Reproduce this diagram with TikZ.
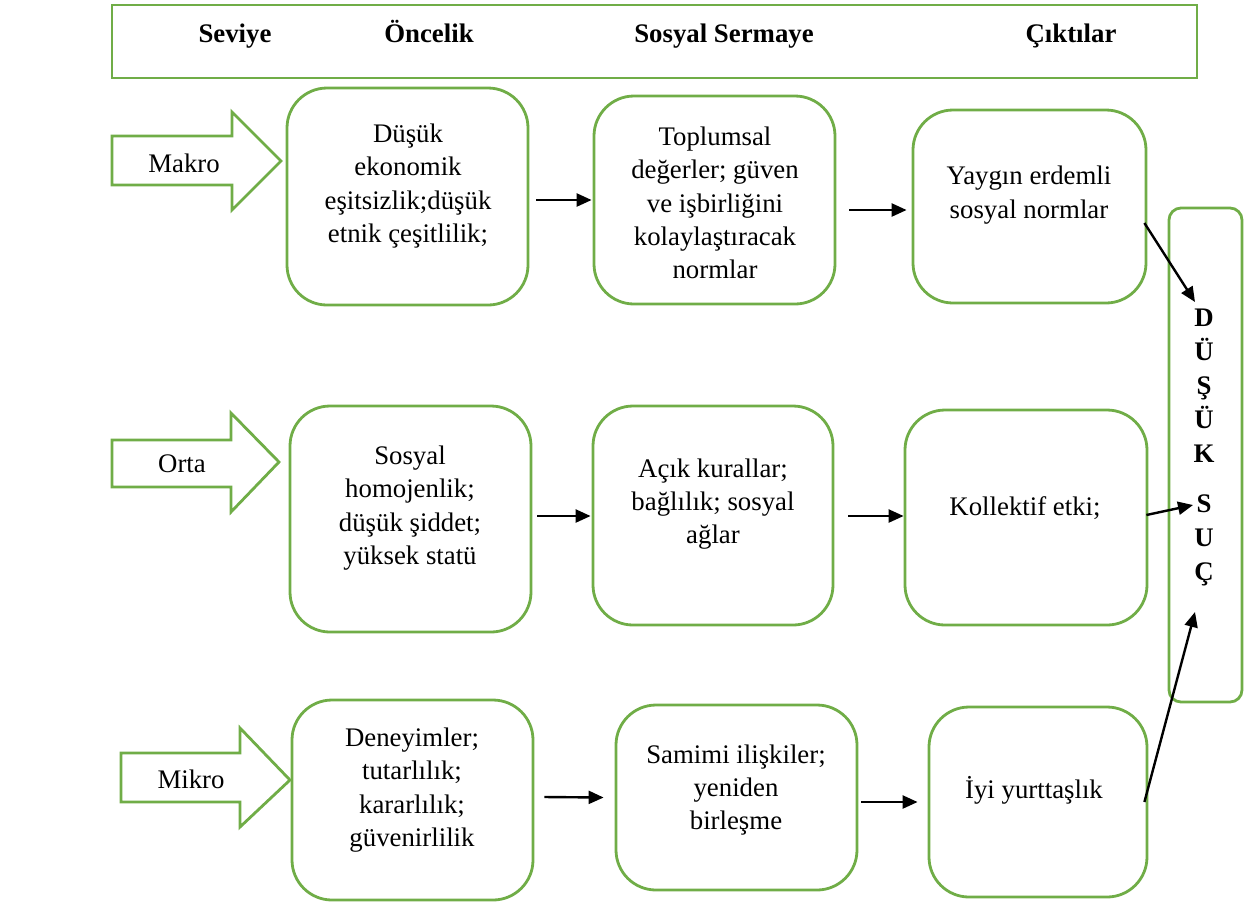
\documentclass[tikz,border=0pt]{standalone}
\usepackage{fontspec}
\setmainfont{Liberation Serif}
\usetikzlibrary{arrows.meta,calc,fit}
\definecolor{grn}{RGB}{112,173,71}
\tikzset{
  bx/.style={draw=grn, line width=1.4pt, rounded corners=20pt, inner sep=0pt},
  hdr/.style={draw=grn, line width=1.4pt, inner sep=0pt},
  tall/.style={draw=grn, line width=1.4pt, rounded corners=6pt, inner sep=0pt},
  blk/.style={draw=grn, line width=1.4pt, fill=white},
  txt/.style={align=center, font=\fontsize{13.4pt}{16.6pt}\selectfont, inner sep=0pt},
  htxt/.style={font=\fontsize{13.4pt}{16.6pt}\selectfont\bfseries, inner sep=0pt, anchor=base},
  arr/.style={-{Triangle[length=7.5pt,width=6.5pt]}, line width=1.2pt, black},
}
\begin{document}
\begin{tikzpicture}[x=0.5pt,y=-0.5pt]
\useasboundingbox (0,0) rectangle (1254,902);
% header
\node[hdr, fit={(112,5) (1197,78)}] (head) {};
\node[htxt] (h1) at (235,42) {Seviye};
\node[htxt] (h2) at (429,42) {Öncelik};
\node[htxt] (h3) at (724,42) {Sosyal Sermaye};
\node[htxt] (h4) at (1071,42) {Çıktılar};
% block arrows
\draw[blk] (112,136) -- (232,136) -- (232,112) -- (281,161) -- (232,210) -- (232,185) -- (112,185) -- cycle;
\node[txt] (lmakro) at (184,163) {Makro};
\draw[blk] (112,440) -- (231,440) -- (231,413) -- (279,462) -- (231,512) -- (231,487) -- (112,487) -- cycle;
\node[txt] (lorta) at (182,464) {Orta};
\draw[blk] (121,753) -- (240,753) -- (240,728) -- (290,780) -- (240,827) -- (240,802) -- (121,802) -- cycle;
\node[txt] (lmikro) at (191,779) {Mikro};
% row 1
\node[bx, fit={(287,88) (528,305)}] (b11) {};
\node[txt] (t11) at (408,186) {Düşük\\ekonomik\\eşitsizlik;düşük\\etnik çeşitlilik;};
\node[bx, fit={(594,96) (835,304)}] (b12) {};
\node[txt] (t12) at (715,203) {Toplumsal\\değerler; güven\\ve işbirliğini\\kolaylaştıracak\\normlar};
\node[bx, fit={(913,110) (1146,303)}] (b13) {};
\node[txt] (t13) at (1029,195) {Yaygın erdemli\\sosyal normlar};
% row 2
\node[bx, fit={(290,406) (531,632)}] (b21) {};
\node[txt] (t21) at (410,508) {Sosyal\\homojenlik;\\düşük şiddet;\\yüksek statü};
\node[bx, fit={(593,406) (833,625)}] (b22) {};
\node[txt] (t22) at (713,504) {Açık kurallar;\\bağlılık; sosyal\\ağlar};
\node[bx, fit={(905,410) (1147,625)}] (b23) {};
\node[txt] (t23) at (1025,508) {Kollektif etki;};
% row 3
\node[bx, fit={(292,700) (533,900)}] (b31) {};
\node[txt] (t31) at (412,790) {Deneyimler;\\tutarlılık;\\kararlılık;\\güvenirlilik};
\node[bx, fit={(616,705) (857,890)}] (b32) {};
\node[txt] (t32) at (736,790) {Samimi ilişkiler;\\yeniden\\birleşme};
\node[bx, fit={(929,707) (1147,897)}] (b33) {};
\node[txt] (t33) at (1034,790) {İyi yurttaşlık};
% right box
\node[tall, fit={(1169,208) (1242,702)}] (res) {};
\node[txt, font=\fontsize{13.4pt}{17pt}\selectfont\bfseries] (rtxt) at (1204,447) {D\\Ü\\Ş\\Ü\\K\\[8pt]S\\U\\Ç};
\coordinate (e1) at (1195,302);
\coordinate (e2) at (1193,505);
\coordinate (e3) at (1195,612);
% connectors
\draw[arr] ($(b11.east)+(7,3.5)$) -- ($(b12.west)+(-1,0)$);
\draw[arr] ($(b12.east)+(13,10)$) -- ($(b13.west)+(-5,3.5)$);
\draw[arr] ($(b21.east)+(5,-3)$) -- ($(b22.west)+(-1,0.5)$);
\draw[arr] ($(b22.east)+(14,0.5)$) -- ($(b23.west)+(0,-1.5)$);
\draw[arr] ($(b31.east)+(10,-3)$) -- ($(b32.west)+(-11,0)$);
\draw[arr] ($(b32.east)+(3,4.5)$) -- ($(b33.west)+(-10,0)$);
\draw[arr] ($(b13.east)+(-3,16.5)$) -- (e1);
\draw[arr] ($(b23.east)+(-2,-2.5)$) -- (e2);
\draw[arr] ($(b33.east)+(-4,0)$) -- (e3);
\end{tikzpicture}
\end{document}
